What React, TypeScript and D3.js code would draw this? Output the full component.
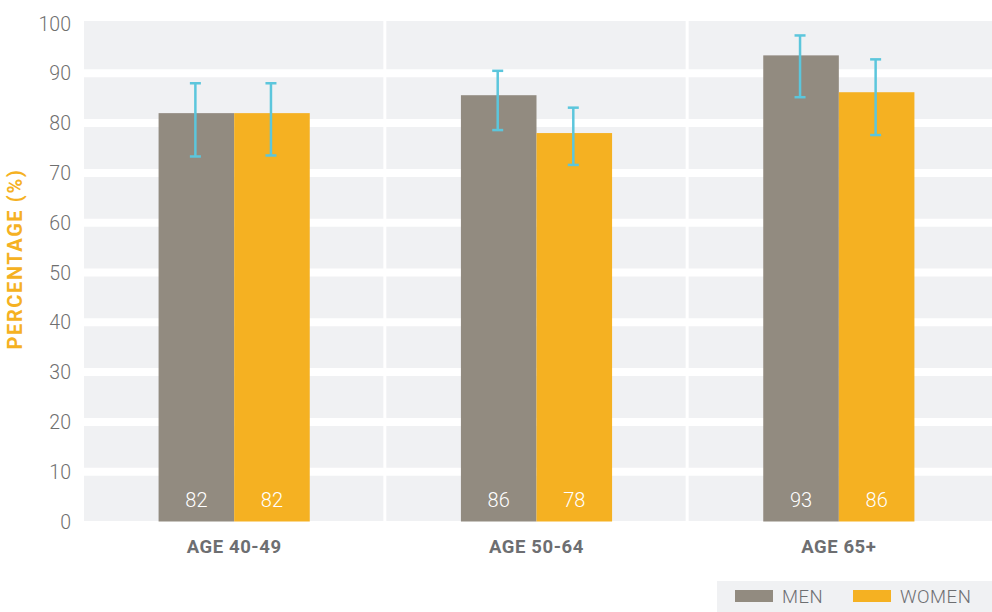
import React from "react";
import * as d3 from "d3";

const categories = ["AGE 40-49", "AGE 50-64", "AGE 65+"];
const seriesNames = ["MEN", "WOMEN"];
const menValues = [82, 85.6, 93.6];
const womenValues = [82, 78, 86.2];
const menLabels = ["82", "86", "93"];
const womenLabels = ["82", "78", "86"];
const menErrLow = [73.3, 78.6, 85.2];
const menErrHigh = [88, 90.5, 97.6];
const womenErrLow = [73.5, 71.6, 77.6];
const womenErrHigh = [88, 83.1, 92.8];
const yTicks = [0, 10, 20, 30, 40, 50, 60, 70, 80, 90, 100];

const W = 992;
const H = 612;
const COLORS = ["#928b80", "#f5b122"];
const ERR = "#5cc6dc";
const BG = "#f0f1f3";
const FONT = "Roboto, 'Noto Sans', sans-serif";

export default function App() {
  const x0 = d3.scaleBand<string>().domain(categories).range([83, 990]).paddingInner(0).paddingOuter(0);
  const bw = x0.bandwidth();
  const x1 = d3.scaleBand<string>().domain(seriesNames).range([bw * 0.25, bw * 0.75]).padding(0);
  const y = d3.scaleLinear().domain([0, 100]).range([521.5, 23.5]);

  const series = [
    { name: "MEN", values: menValues, labels: menLabels, lo: menErrLow, hi: menErrHigh },
    { name: "WOMEN", values: womenValues, labels: womenLabels, lo: womenErrLow, hi: womenErrHigh },
  ];

  return (
    <svg width={W} height={H} style={{ position: "absolute", left: 0, top: 0, display: "block" }}>
      <rect x={0} y={0} width={W} height={H} fill="#ffffff" />
      {/* plot background */}
      <rect x={84} y={21} width={W - 84} height={500} fill={BG} />
      {/* horizontal white gridlines */}
      {yTicks.filter((t) => t > 0 && t < 100).map((t) => (
        <line key={"g" + t} x1={84} x2={W} y1={y(t)} y2={y(t)} stroke="#ffffff" strokeWidth={8} />
      ))}
      {/* vertical separators */}
      {categories.slice(1).map((c) => (
        <line key={"s" + c} x1={x0(c)! - 0.5} x2={x0(c)! - 0.5} y1={21} y2={521} stroke="#ffffff" strokeWidth={3} />
      ))}
      {/* y tick labels */}
      {yTicks.map((t) => (
        <text key={"t" + t} x={71} y={y(t) + 7} textAnchor="end" fontFamily={FONT} fontWeight={300} fontSize={19.5} fill="#6f6f6f">
          {t}
        </text>
      ))}
      {/* y title */}
      <text
        transform={`translate(22, 259) rotate(-90)`}
        textAnchor="middle"
        fontFamily={FONT}
        fontWeight={700}
        fontSize={20}
        fill="#f5b122"
        letterSpacing={1.6}
      >
        PERCENTAGE (%)
      </text>
      {/* bars */}
      {series.map((s, si) =>
        categories.map((c, ci) => {
          const bx = x0(c)! + x1(s.name)!;
          const w = x1.bandwidth();
          return (
            <g key={s.name + c}>
              <rect x={bx} y={y(s.values[ci])} width={w} height={y(0) - y(s.values[ci])} fill={COLORS[si]} />
              <text x={bx + w / 2} y={507} textAnchor="middle" fontFamily={FONT} fontWeight={300} fontSize={20} fill="#ffffff">
                {s.labels[ci]}
              </text>
            </g>
          );
        })
      )}
      {/* error bars */}
      {series.map((s) =>
        categories.map((c, ci) => {
          const cx = x0(c)! + x1(s.name)! + x1.bandwidth() / 2 - 1;
          return (
            <g key={"e" + s.name + c} stroke={ERR} strokeWidth={2.5}>
              <line x1={cx} x2={cx} y1={y(s.hi[ci])} y2={y(s.lo[ci])} />
              <line x1={cx - 5.5} x2={cx + 5.5} y1={y(s.hi[ci])} y2={y(s.hi[ci])} />
              <line x1={cx - 5.5} x2={cx + 5.5} y1={y(s.lo[ci])} y2={y(s.lo[ci])} />
            </g>
          );
        })
      )}
      {/* category labels */}
      {categories.map((c) => (
        <text key={"c" + c} x={x0(c)! + bw / 2} y={553} textAnchor="middle" fontFamily={FONT} fontWeight={700} fontSize={18.5} fill="#6d6e71" letterSpacing={0.6}>
          {c}
        </text>
      ))}
      {/* legend */}
      <rect x={717} y={581} width={W - 717} height={H - 581} fill={BG} />
      {seriesNames.map((n, i) => {
        const lx = i === 0 ? 735 : 853;
        return (
          <g key={"l" + n}>
            <rect x={lx} y={590} width={38} height={12} fill={COLORS[i]} />
            <text x={lx + 47} y={603} fontFamily={FONT} fontWeight={300} fontSize={18.5} fill="#6d6e71" letterSpacing={0.5}>
              {n}
            </text>
          </g>
        );
      })}
    </svg>
  );
}
